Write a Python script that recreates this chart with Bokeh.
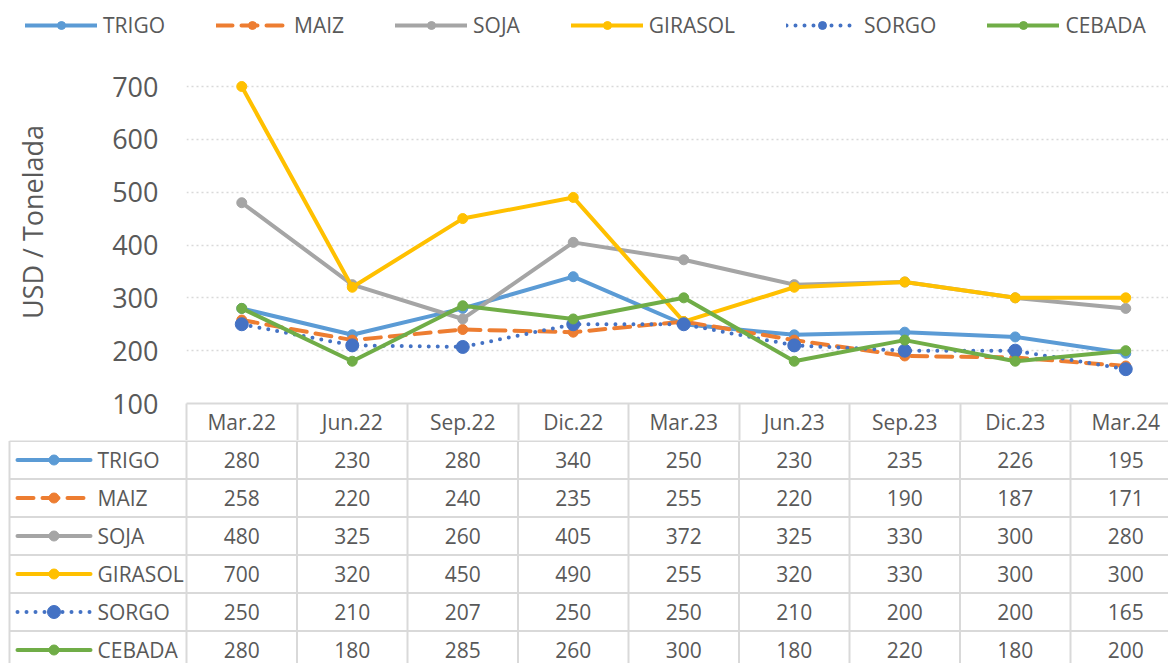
from bokeh.plotting import figure
from bokeh.models import Range1d, FixedTicker, Legend, LegendItem, ColumnDataSource
from bokeh.layouts import column
from bokeh.embed import file_html
from bokeh.resources import INLINE
from bokeh.core.properties import value

# ---------------- data ----------------
categories = ["Mar.22", "Jun.22", "Sep.22", "Dic.22", "Mar.23", "Jun.23", "Sep.23", "Dic.23", "Mar.24"]
series_names = ["TRIGO", "MAIZ", "SOJA", "GIRASOL", "SORGO", "CEBADA"]
trigo = [280, 230, 280, 340, 250, 230, 235, 226, 195]
maiz = [258, 220, 240, 235, 255, 220, 190, 187, 171]
soja = [480, 325, 260, 405, 372, 325, 330, 300, 280]
girasol = [700, 320, 450, 490, 255, 320, 330, 300, 300]
sorgo = [250, 210, 207, 250, 250, 210, 200, 200, 165]
cebada = [280, 180, 285, 260, 300, 180, 220, 180, 200]
y_ticks = [100, 200, 300, 400, 500, 600, 700]
y_label = "USD / Tonelada"

series_values = [trigo, maiz, soja, girasol, sorgo, cebada]

# ---------------- styles ----------------
colors = ["#5B9BD5", "#ED7D31", "#A5A5A5", "#FFC000", "#4472C4", "#70AD47"]
dashes = ["solid", "16 9", "solid", "solid", "0 9", "solid"]
msizes = [10, 10, 10, 10, 13, 10]
FONT = "Open Sans"
TXT = "#595959"
GRID = "#D9D9D9"

# ---------------- layout constants (page pixels) ----------------
W = 1168
TOTAL_H = 663
FRAME_LEFT = 186
COL_PX = 110.5
Y_TOP_TICK_PX = 86      # pixel row of the top tick
PLOT_BOTTOM = 403
TABLE_TOP = 440
ROW_PX = 38
LEG_H = 40
HEADER_H = TABLE_TOP - PLOT_BOTTOM


def px2x(px):
    return (px - FRAME_LEFT) / COL_PX - 0.5


n = len(categories)
xs = list(range(n))
x_end = px2x(W)
y_min, y_max_tick = y_ticks[0], y_ticks[-1]
px_per_unit = (PLOT_BOTTOM - Y_TOP_TICK_PX) / (y_max_tick - y_min)
y_end = y_min + (PLOT_BOTTOM - LEG_H) / px_per_unit


def bare_fig(h, xr, yr):
    f = figure(width=W, height=h, x_range=xr, y_range=yr,
               x_axis_type=None, y_axis_type=None, min_border=0,
               min_border_left=0, min_border_right=0, min_border_top=0, min_border_bottom=0,
               output_backend="svg", toolbar_location=None)
    f.frame_align = False
    f.outline_line_color = None
    f.grid.visible = False
    return f


# ---------------- legend strip ----------------
pL = bare_fig(LEG_H, Range1d(0, 1), Range1d(0, 1))
items = []
for name, c, d, ms in zip(series_names, colors, dashes, msizes):
    lr = pL.line(x=[-10, -9], y=[-10, -10], line_color=c, line_width=4, line_dash=d, line_cap="round")
    sr = pL.scatter(x=[-10], y=[-10], size=ms, fill_color=c, line_color=c)
    items.append(LegendItem(label=name, renderers=[lr, sr]))
legend = Legend(items=items, orientation="horizontal", location=(25, 1),
                glyph_width=72, glyph_height=20, label_standoff=6, spacing=51,
                padding=0, margin=0, border_line_color=None, background_fill_alpha=0,
                label_text_font=FONT, label_text_font_size="21px", label_text_color=TXT)
pL.add_layout(legend)

# ---------------- chart figure ----------------
hA = TABLE_TOP - LEG_H
pA = figure(width=W, height=hA, x_range=Range1d(-0.5, x_end), y_range=Range1d(y_min, y_end),
            min_border_left=FRAME_LEFT, min_border_right=0,
            min_border_top=0, min_border_bottom=HEADER_H,
            output_backend="svg", toolbar_location=None)
pA.frame_align = False
pA.outline_line_color = None
pA.xgrid.visible = False
pA.ygrid.ticker = FixedTicker(ticks=y_ticks)
pA.ygrid.grid_line_color = GRID
pA.ygrid.grid_line_dash = "2 3"
pA.ygrid.grid_line_width = 1.5

xax = pA.xaxis[0]
xax.ticker = FixedTicker(ticks=xs, minor_ticks=[i - 0.5 for i in range(n + 1)])
xax.major_label_overrides = {i: c for i, c in enumerate(categories)}
xax.major_tick_line_color = None
xax.major_tick_out = 0
xax.major_tick_in = 0
xax.minor_tick_in = 0
xax.minor_tick_out = HEADER_H
xax.minor_tick_line_color = GRID
xax.minor_tick_line_width = 2
xax.axis_line_color = GRID
xax.axis_line_width = 2
xax.major_label_standoff = 4 - HEADER_H
xax.major_label_text_font = FONT
xax.major_label_text_font_size = "21px"
xax.major_label_text_color = TXT

yax = pA.yaxis[0]
yax.ticker = FixedTicker(ticks=y_ticks)
yax.axis_line_color = None
yax.major_tick_line_color = None
yax.minor_tick_line_color = None
yax.major_tick_out = 0
yax.major_label_standoff = 28
yax.major_label_text_font = FONT
yax.major_label_text_font_size = "27px"
yax.major_label_text_color = TXT
yax.axis_label = y_label
yax.axis_label_text_font = FONT
yax.axis_label_text_font_size = "27px"
yax.axis_label_text_font_style = "normal"
yax.axis_label_text_color = TXT
yax.axis_label_standoff = 58

for name, vals, c, d, ms in zip(series_names, series_values, colors, dashes, msizes):
    src = ColumnDataSource(dict(x=xs, y=vals))
    pA.line("x", "y", source=src, line_color=c, line_width=4, line_dash=d, line_cap="round")
    pA.scatter("x", "y", source=src, size=ms, fill_color=c, line_color=c)

# ---------------- table figure ----------------
hB = TOTAL_H - TABLE_TOP
y_top = -0.5 - 0.5 / ROW_PX
y_bot = y_top + hB / ROW_PX
pB = bare_fig(hB, Range1d(px2x(0), x_end), Range1d(y_bot, y_top))

nrows = len(series_names)
tbl_left = px2x(9)
hy = [r - 0.5 for r in range(nrows + 1)]
pB.segment(x0=[tbl_left] * len(hy), x1=[x_end + 1] * len(hy), y0=hy, y1=hy,
           line_color=GRID, line_width=2)
vx = [tbl_left] + [i - 0.5 for i in range(n + 1)]
pB.segment(x0=vx, x1=vx, y0=[-0.5] * len(vx), y1=[nrows - 0.5] * len(vx),
           line_color=GRID, line_width=2)

cx, cy, ct = [], [], []
for r, vals in enumerate(series_values):
    for i, v in enumerate(vals):
        cx.append(i)
        cy.append(r)
        ct.append(str(v))
pB.text(x="x", y="y", text="t", source=ColumnDataSource(dict(x=cx, y=cy, t=ct)),
        text_align="center", text_baseline="middle", text_font=value(FONT),
        text_font_size="21px", text_color=TXT)

gx0, gx1, gxm, lx = px2x(17), px2x(90), px2x(53.5), px2x(97)
for r, (name, c, d, ms) in enumerate(zip(series_names, colors, dashes, msizes)):
    pB.line([gx0, gx1], [r, r], line_color=c, line_width=4, line_dash=d, line_cap="round")
    pB.scatter([gxm], [r], size=ms, fill_color=c, line_color=c)
pB.text(x=[lx] * nrows, y=list(range(nrows)), text=series_names,
        text_align="left", text_baseline="middle", text_font=value(FONT),
        text_font_size="21px", text_color=TXT)

layout = column(pL, pA, pB, spacing=0)
open("out.html", "w").write(file_html(layout, INLINE))
